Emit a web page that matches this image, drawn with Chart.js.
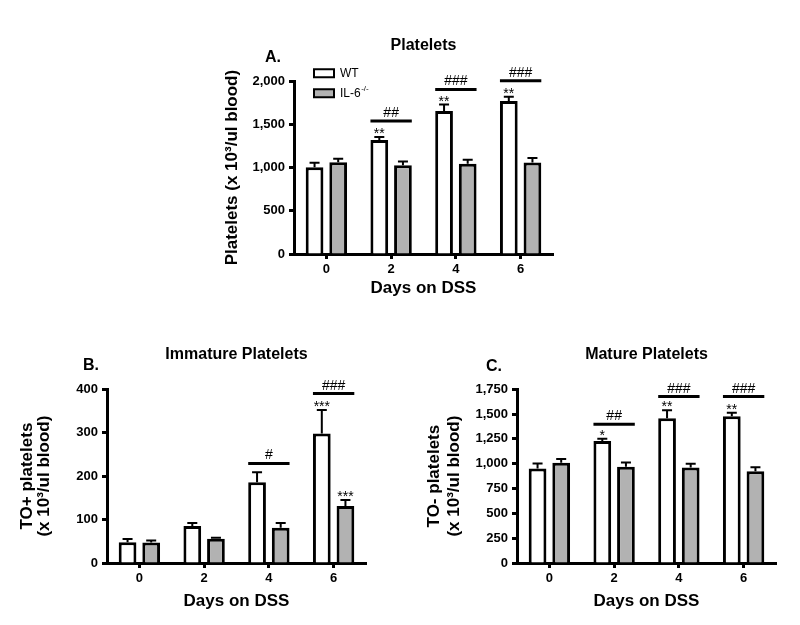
<!DOCTYPE html>
<html>
<head>
<meta charset="utf-8">
<script src="https://cdn.jsdelivr.net/npm/chart.js@4.4.1/dist/chart.umd.min.js"></script>
<style>
  body { margin: 0; background: #fff; width: 800px; height: 625px; position: relative; overflow: hidden; }
  canvas { position: absolute; }
</style>
</head>
<body>
<canvas id="chartA" width="400" height="290" style="left:180px;top:20px"></canvas>
<canvas id="chartB" width="390" height="295" style="left:0px;top:330px"></canvas>
<canvas id="chartC" width="400" height="295" style="left:400px;top:330px"></canvas>
<script>
const days = ['0', '2', '4', '6'];
const groups = ['WT', 'IL-6-/-'];

// A. total platelets (x 10^3/ul blood), mean and SEM
const plateletsWT = [1005, 1318, 1655, 1770];
const plateletsWTsem = [50, 35, 75, 50];
const plateletsKO = [1062, 1027, 1046, 1058];
const plateletsKOsem = [40, 45, 45, 52];
const plateletsHash = ['', '##', '###', '###'];
const plateletsHashAt = [null, 1540, 1905, 2005];
const plateletsStarWT = ['', '**', '**', '**'];
const plateletsStarKO = ['', '', '', ''];

// B. immature (TO+) platelets
const immatureWT = [48, 85, 186, 298];
const immatureWTsem = [7, 7, 23, 54];
const immatureKO = [47, 56, 81, 131];
const immatureKOsem = [5, 2, 11, 14];
const immatureHash = ['', '', '#', '###'];
const immatureHashAt = [null, null, 229, 390];
const immatureStarWT = ['', '', '', '***'];
const immatureStarKO = ['', '', '', '***'];

// C. mature (TO-) platelets
const matureWT = [952, 1228, 1457, 1477];
const matureWTsem = [50, 24, 80, 37];
const matureKO = [1009, 969, 962, 925];
const matureKOsem = [37, 44, 37, 40];
const matureHash = ['', '##', '###', '###'];
const matureHashAt = [null, 1396, 1676, 1676];
const matureStarWT = ['', '*', '**', '**'];
const matureStarKO = ['', '', '', ''];

const FONT = "'Liberation Sans', Arial, sans-serif";
Chart.defaults.font.family = FONT;
Chart.defaults.color = '#000';

function makePanel(id, p) {
  const marks = {
    id: 'marks' + id,
    afterLayout(chart) {
      // legend sits inside the plot, top-left, a bit above the axis top
      if (p.legend) {
        const lg = chart.legend, a = chart.chartArea;
        lg.left = a.left + 12;
        lg.top = a.top - 22;
        lg.bottom = lg.top + lg.height;
      }
    },
    afterDatasetsDraw(chart) {
      const ctx = chart.ctx;
      const y = chart.scales.y;
      const sems = [p.wtSem, p.koSem];
      const stars = [p.wtStar, p.koStar];
      ctx.save();
      ctx.strokeStyle = '#000';
      ctx.fillStyle = '#000';
      ctx.textAlign = 'center';
      ctx.textBaseline = 'alphabetic';
      // error bars (upper SEM) and asterisks
      [0, 1].forEach(i => {
        const ds = chart.data.datasets[i];
        chart.getDatasetMeta(i).data.forEach((bar, j) => {
          const top = y.getPixelForValue(ds.data[j] + sems[i][j]);
          ctx.lineWidth = 2;
          ctx.beginPath();
          ctx.moveTo(bar.x, bar.y);
          ctx.lineTo(bar.x, top);
          ctx.moveTo(bar.x - 5, top);
          ctx.lineTo(bar.x + 5, top);
          ctx.stroke();
          if (stars[i][j]) {
            ctx.font = '14px ' + FONT;
            ctx.fillText(stars[i][j], bar.x, top + 1);
          }
        });
      });
      // WT vs IL-6-/- comparison lines
      const wt = chart.getDatasetMeta(0).data, ko = chart.getDatasetMeta(1).data;
      p.hash.forEach((h, j) => {
        if (!h) return;
        const ly = y.getPixelForValue(p.hashAt[j]);
        ctx.lineWidth = 3;
        ctx.beginPath();
        ctx.moveTo(wt[j].x - wt[j].width / 2, ly);
        ctx.lineTo(ko[j].x + ko[j].width / 2, ly);
        ctx.stroke();
        ctx.font = '14px ' + FONT;
        ctx.fillText(h, (wt[j].x + ko[j].x) / 2, ly - 4);
      });
      // panel letter
      const a = chart.chartArea;
      ctx.font = 'bold 16px ' + FONT;
      ctx.textAlign = 'left';
      ctx.fillText(p.letter, a.left + p.letterAt[0], a.top + p.letterAt[1]);
      ctx.restore();
    },
    afterDraw(chart) {
      if (!p.legend) return;
      const ctx = chart.ctx;
      const hb = chart.legend.legendHitBoxes[1];
      ctx.save();
      ctx.font = '12px ' + FONT;
      const w = ctx.measureText('IL-6').width;
      ctx.font = '8px ' + FONT;
      ctx.fillStyle = '#000';
      ctx.textAlign = 'left';
      ctx.textBaseline = 'middle';
      ctx.fillText('-/-', hb.left + 20 + 6 + w + 0.5, hb.top + hb.height / 2 - 4);
      ctx.restore();
    }
  };

  return new Chart(document.getElementById(id), {
    type: 'bar',
    data: {
      labels: days,
      datasets: [
        { label: groups[0], data: p.wt, backgroundColor: '#ffffff', borderColor: '#000', borderWidth: 3 },
        { label: groups[1], data: p.ko, backgroundColor: '#b2b2b2', borderColor: '#000', borderWidth: 3 }
      ]
    },
    options: {
      responsive: false,
      animation: false,
      categoryPercentage: 0.73,
      barPercentage: 0.75,
      layout: { padding: { left: 0, top: 0, bottom: 0, right: p.padRight } },
      scales: {
        x: {
          afterFit: s => { s.height = p.xHeight; },
          grid: { offset: false, drawOnChartArea: false, tickLength: 5, tickWidth: 3, tickColor: '#000' },
          border: { display: true, width: 3, color: '#000' },
          ticks: { font: { size: 13, weight: 'bold' }, padding: 3 },
          title: { display: true, text: 'Days on DSS', font: { size: 17, weight: 'bold' }, padding: { top: 0, bottom: p.xTitlePad } }
        },
        y: {
          min: 0,
          max: p.max,
          afterFit: s => { s.width = p.yWidth; },
          grid: { drawOnChartArea: false, tickLength: 5, tickWidth: 3, tickColor: '#000' },
          border: { display: true, width: 3, color: '#000' },
          ticks: { stepSize: p.step, font: { size: 13, weight: 'bold' }, padding: 4,
                   callback: v => v.toLocaleString('en-US') },
          title: { display: true, text: p.yTitle, font: { size: 17, weight: 'bold', lineHeight: p.yLine },
                   padding: { top: p.yTitlePad, bottom: 0 } }
        }
      },
      plugins: {
        title: { display: true, text: p.title, fullSize: false, font: { size: 16, weight: 'bold' },
                 padding: { top: p.titlePad[0], bottom: p.titlePad[1] } },
        legend: {
          display: p.legend,
          position: 'chartArea',
          align: 'start',
          labels: {
            boxWidth: 20, boxHeight: 8, padding: 8, font: { size: 12 },
            generateLabels: chart => Chart.defaults.plugins.legend.labels.generateLabels(chart)
              .map((it, i) => Object.assign(it, { lineWidth: 2, text: i === 1 ? 'IL-6' : it.text }))
          }
        },
        tooltip: { enabled: false }
      }
    },
    plugins: [marks]
  });
}

makePanel('chartA', {
  wt: plateletsWT, ko: plateletsKO, wtSem: plateletsWTsem, koSem: plateletsKOsem,
  hash: plateletsHash, hashAt: plateletsHashAt, wtStar: plateletsStarWT, koStar: plateletsStarKO,
  title: 'Platelets', letter: 'A.', letterAt: [-29, -19], legend: true,
  yTitle: 'Platelets (x 10³/ul blood)', yLine: 1.2, yTitlePad: 42,
  max: 2000, step: 500, yWidth: 114, xHeight: 56, xTitlePad: 11, padRight: 27, titlePad: [16, 26]
});

makePanel('chartB', {
  wt: immatureWT, ko: immatureKO, wtSem: immatureWTsem, koSem: immatureKOsem,
  hash: immatureHash, hashAt: immatureHashAt, wtStar: immatureStarWT, koStar: immatureStarKO,
  title: 'Immature Platelets', letter: 'B.', letterAt: [-24, -19], legend: false,
  yTitle: ['TO+ platelets', '(x 10³/ul blood)'], yLine: 1.05, yTitlePad: 18,
  max: 400, step: 100, yWidth: 107, xHeight: 62, xTitlePad: 13, padRight: 24, titlePad: [15, 25]
});

makePanel('chartC', {
  wt: matureWT, ko: matureKO, wtSem: matureWTsem, koSem: matureKOsem,
  hash: matureHash, hashAt: matureHashAt, wtStar: matureStarWT, koStar: matureStarKO,
  title: 'Mature Platelets', letter: 'C.', letterAt: [-31, -18], legend: false,
  yTitle: ['TO- platelets', '(x 10³/ul blood)'], yLine: 1.2, yTitlePad: 24,
  max: 1750, step: 250, yWidth: 117, xHeight: 62, xTitlePad: 13, padRight: 24, titlePad: [15, 25]
});
</script>
</body>
</html>
